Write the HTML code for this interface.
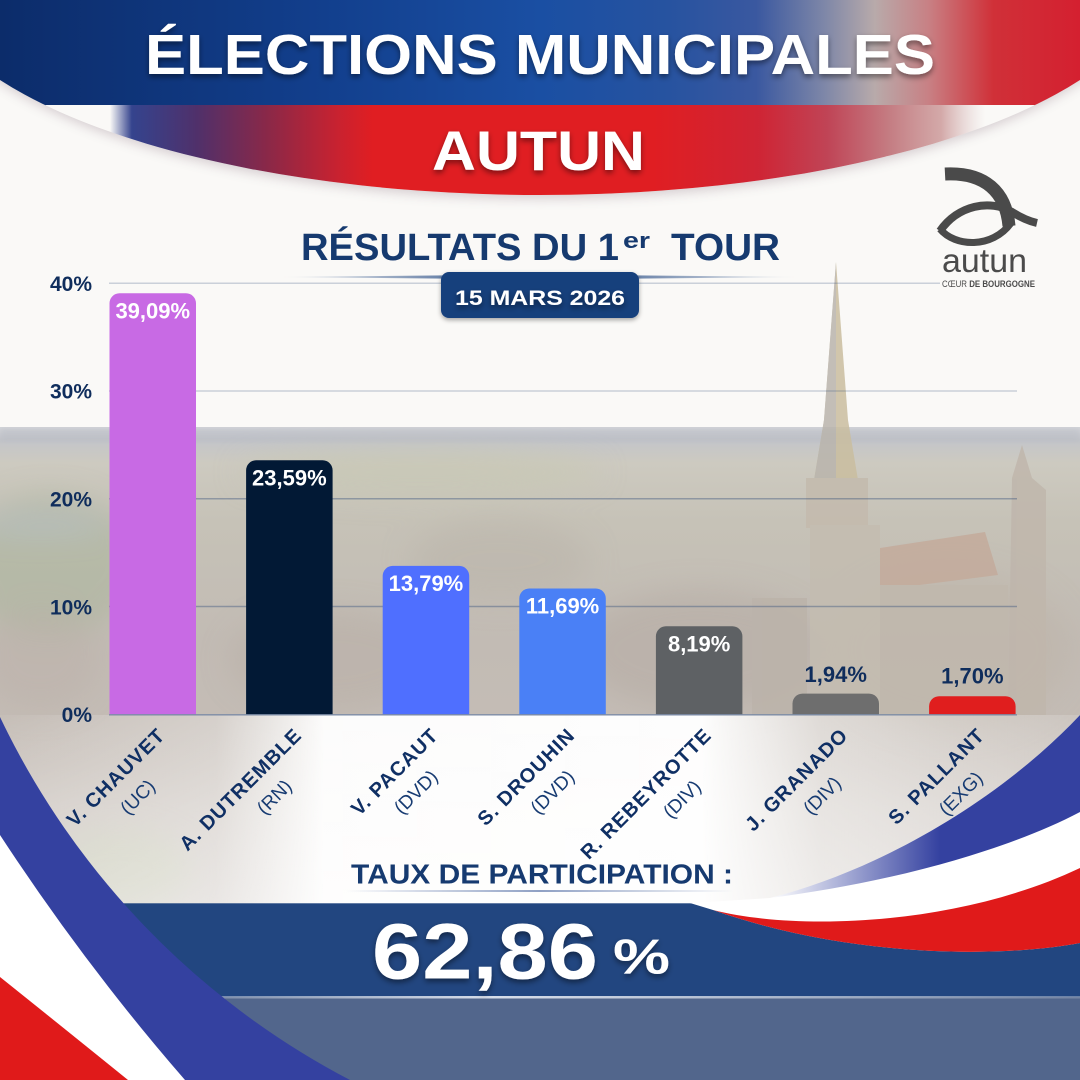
<!DOCTYPE html>
<html><head><meta charset="utf-8">
<style>
html,body{margin:0;padding:0;width:1080px;height:1080px;overflow:hidden;background:#faf9f7}
svg{display:block}
text{font-family:"Liberation Sans",Arial,sans-serif}
</style></head><body>
<svg width="1080" height="1080" viewBox="0 0 1080 1080" xmlns="http://www.w3.org/2000/svg">
<defs>
<clipPath id="hdr"><ellipse cx="540" cy="-31" rx="620" ry="226"/></clipPath>
<clipPath id="phc"><rect x="0" y="427" width="1080" height="480"/></clipPath>
<linearGradient id="topband" x1="0" y1="0" x2="1080" y2="0" gradientUnits="userSpaceOnUse">
 <stop offset="0" stop-color="#0c2c6a"/>
 <stop offset="0.3" stop-color="#123f8d"/>
 <stop offset="0.5" stop-color="#1a4fa3"/>
 <stop offset="0.62" stop-color="#2753a0"/>
 <stop offset="0.7" stop-color="#3a58a0"/>
 <stop offset="0.765" stop-color="#8088a8"/>
 <stop offset="0.81" stop-color="#b8aaaa"/>
 <stop offset="0.86" stop-color="#c88084"/>
 <stop offset="0.92" stop-color="#d03038"/>
 <stop offset="1" stop-color="#d42030"/>
</linearGradient>
<linearGradient id="redband" x1="110" y1="0" x2="985" y2="0" gradientUnits="userSpaceOnUse">
 <stop offset="0" stop-color="#2a3a88" stop-opacity="0"/>
 <stop offset="0.025" stop-color="#2a3a88" stop-opacity="0.95"/>
 <stop offset="0.1" stop-color="#50306a"/>
 <stop offset="0.18" stop-color="#8a2848"/>
 <stop offset="0.26" stop-color="#c82230"/>
 <stop offset="0.3" stop-color="#e01e22"/>
 <stop offset="0.62" stop-color="#e01e22"/>
 <stop offset="0.74" stop-color="#cf2434"/>
 <stop offset="0.82" stop-color="#c04456"/>
 <stop offset="0.89" stop-color="#c47c82"/>
 <stop offset="0.95" stop-color="#cfa0a0" stop-opacity="0.9"/>
 <stop offset="1" stop-color="#d8c0c0" stop-opacity="0"/>
</linearGradient>
<linearGradient id="ph" x1="0" y1="425" x2="0" y2="905" gradientUnits="userSpaceOnUse">
 <stop offset="0" stop-color="#d8dade"/>
 <stop offset="0.03" stop-color="#c3c5ca"/>
 <stop offset="0.08" stop-color="#cdcac0"/>
 <stop offset="0.2" stop-color="#c6c2b7"/>
 <stop offset="0.45" stop-color="#c2bbb4"/>
 <stop offset="0.7" stop-color="#c5bdb6"/>
 <stop offset="1" stop-color="#cdc6c0"/>
</linearGradient>
<linearGradient id="haze" x1="0" y1="0" x2="1080" y2="0" gradientUnits="userSpaceOnUse">
 <stop offset="0" stop-color="#ffffff" stop-opacity="0.05"/>
 <stop offset="0.2" stop-color="#ffffff" stop-opacity="0.3"/>
 <stop offset="0.3" stop-color="#ffffff" stop-opacity="0.95"/>
 <stop offset="0.65" stop-color="#ffffff" stop-opacity="0.97"/>
 <stop offset="0.76" stop-color="#ffffff" stop-opacity="0.45"/>
 <stop offset="1" stop-color="#ffffff" stop-opacity="0.15"/>
</linearGradient>
<linearGradient id="hazeV" x1="0" y1="715" x2="0" y2="905" gradientUnits="userSpaceOnUse">
 <stop offset="0" stop-color="#ffffff" stop-opacity="0"/>
 <stop offset="0.5" stop-color="#ffffff" stop-opacity="0.25"/>
 <stop offset="1" stop-color="#ffffff" stop-opacity="0.4"/>
</linearGradient>
<linearGradient id="uline" x1="279" y1="0" x2="799" y2="0" gradientUnits="userSpaceOnUse">
 <stop offset="0" stop-color="#173f7c" stop-opacity="0"/>
 <stop offset="0.5" stop-color="#173f7c"/>
 <stop offset="1" stop-color="#173f7c" stop-opacity="0"/>
</linearGradient>
<linearGradient id="uline2" x1="346" y1="0" x2="733" y2="0" gradientUnits="userSpaceOnUse">
 <stop offset="0" stop-color="#8fa0c4" stop-opacity="0"/>
 <stop offset="0.5" stop-color="#8fa0c4"/>
 <stop offset="1" stop-color="#8fa0c4" stop-opacity="0"/>
</linearGradient>
<linearGradient id="hl" x1="100" y1="0" x2="1080" y2="0" gradientUnits="userSpaceOnUse">
 <stop offset="0" stop-color="#ffffff" stop-opacity="0"/>
 <stop offset="0.4" stop-color="#e6ebf4" stop-opacity="0.9"/>
 <stop offset="1" stop-color="#ffffff" stop-opacity="0.2"/>
</linearGradient>
<linearGradient id="blueR" x1="770" y1="0" x2="940" y2="0" gradientUnits="userSpaceOnUse">
 <stop offset="0" stop-color="#3441a0" stop-opacity="0"/>
 <stop offset="1" stop-color="#3441a0"/>
</linearGradient>
<filter id="tsh" x="-10%" y="-40%" width="120%" height="180%"><feDropShadow dx="0" dy="3" stdDeviation="3" flood-color="#000" flood-opacity="0.45"/></filter>
<filter id="bsh" x="-20%" y="-40%" width="140%" height="180%"><feDropShadow dx="0" dy="2" stdDeviation="2.5" flood-color="#000" flood-opacity="0.35"/></filter>
<filter id="blur6"><feGaussianBlur stdDeviation="6"/></filter>
<filter id="blur3"><feGaussianBlur stdDeviation="3"/></filter>
<filter id="blur12" x="-50%" y="-50%" width="200%" height="200%"><feGaussianBlur stdDeviation="14"/></filter>
</defs>

<!-- background -->
<rect width="1080" height="1080" fill="#faf9f7"/>

<!-- photo -->
<rect x="0" y="427" width="1080" height="480" fill="url(#ph)"/>
<g clip-path="url(#phc)">
<g filter="url(#blur12)">
 <ellipse cx="50" cy="565" rx="90" ry="70" fill="#aab59a" opacity="0.55"/>
 <ellipse cx="420" cy="472" rx="180" ry="22" fill="#c6c8b2" opacity="0.6"/>
 <ellipse cx="700" cy="650" rx="120" ry="60" fill="#b4a9a1" opacity="0.5"/>
 <ellipse cx="330" cy="660" rx="100" ry="50" fill="#b8ada5" opacity="0.5"/>
 <ellipse cx="500" cy="560" rx="90" ry="40" fill="#b9b2a8" opacity="0.45"/>
 <ellipse cx="120" cy="870" rx="70" ry="40" fill="#bfc4a8" opacity="0.6"/>
 <ellipse cx="950" cy="650" rx="120" ry="80" fill="#bdb3a8" opacity="0.5"/>
 <ellipse cx="40" cy="660" rx="60" ry="50" fill="#bcb1aa" opacity="0.5"/>
 <ellipse cx="40" cy="524" rx="70" ry="9" fill="#b8c1cb" opacity="0.7"/>
</g>
<rect x="0" y="428" width="1080" height="14" fill="#b7bac2" opacity="0.45" filter="url(#blur3)"/>
</g>
<!-- cathedral -->
<g opacity="0.85">
 <polygon points="836,262 848,420 858,480 814,480 824,420" fill="#c9be9f"/>
 <polygon points="836,262 824,420 814,480 836,480" fill="#b9b4ac"/>
 <rect x="806" y="478" width="62" height="50" fill="#c3baad"/>
 <rect x="810" y="525" width="70" height="190" fill="#c4bcb1"/>
 <polygon points="880,548 985,532 998,575 880,590" fill="#c4ab9c"/>
 <rect x="880" y="585" width="128" height="130" fill="#c0b8ad"/>
 <polygon points="1012,478 1022,445 1032,478 1046,490 1046,715 1008,715" fill="#bfb6ac"/>
 <rect x="752" y="598" width="55" height="117" fill="#bbb3aa"/>
</g>
<!-- haze below axis -->
<rect x="0" y="715" width="1080" height="190" fill="url(#haze)"/>
<rect x="0" y="715" width="1080" height="190" fill="url(#hazeV)"/>

<!-- gridlines -->
<g stroke="#1f3f73" stroke-opacity="0.22" stroke-width="1.5">
 <line x1="109" y1="283.3" x2="940" y2="283.3"/>
 <line x1="109" y1="391" x2="1017" y2="391"/>
 <line x1="109" y1="498.8" x2="1017" y2="498.8" stroke-opacity="0.35"/>
 <line x1="109" y1="606.5" x2="1017" y2="606.5" stroke-opacity="0.35"/>
</g>

<!-- bars -->
<path d="M109.5,714.5 V303.3 A10,10 0 0 1 119.5,293.3 H186 A10,10 0 0 1 196,303.3 V714.5 Z" fill="#c86ae4"/>
<path d="M246.1,714.5 V470.3 A10,10 0 0 1 256.1,460.3 H322.6 A10,10 0 0 1 332.6,470.3 V714.5 Z" fill="#021935"/>
<path d="M382.7,714.5 V575.9 A10,10 0 0 1 392.7,565.9 H459.2 A10,10 0 0 1 469.2,575.9 V714.5 Z" fill="#4f6fff"/>
<path d="M519.3,714.5 V598.5 A10,10 0 0 1 529.3,588.5 H595.8 A10,10 0 0 1 605.8,598.5 V714.5 Z" fill="#4a80f6"/>
<path d="M655.9,714.5 V636.3 A10,10 0 0 1 665.9,626.3 H732.4 A10,10 0 0 1 742.4,636.3 V714.5 Z" fill="#5e6164"/>
<path d="M792.5,714.5 V703.6 A10,10 0 0 1 802.5,693.6 H869 A10,10 0 0 1 879,703.6 V714.5 Z" fill="#6e6e6e"/>
<path d="M929.1,714.5 V706.2 A10,10 0 0 1 939.1,696.2 H1005.6 A10,10 0 0 1 1015.6,706.2 V714.5 Z" fill="#e01e1e"/>
<line x1="109" y1="714.8" x2="1017" y2="714.8" stroke="#7d8ca6" stroke-width="1.3"/>

<!-- value labels -->
<g font-size="22" font-weight="700" text-anchor="middle" fill="#ffffff">
 <text x="152.75" y="318.3">39,09%</text>
 <text x="289.35" y="485.3">23,59%</text>
 <text x="425.95" y="590.9">13,79%</text>
 <text x="562.55" y="613.5">11,69%</text>
 <text x="699.15" y="651.3">8,19%</text>
 <text x="835.75" y="682" fill="#0f2d5c">1,94%</text>
 <text x="972.35" y="683.5" fill="#0f2d5c">1,70%</text>
</g>

<!-- y axis labels -->
<g font-size="21" font-weight="700" text-anchor="end" fill="#0f2d5c">
 <text x="92" y="291">40%</text>
 <text x="92" y="398.5">30%</text>
 <text x="92" y="506.5">20%</text>
 <text x="92" y="614.5">10%</text>
 <text x="92" y="722">0%</text>
</g>

<!-- x labels -->
<g fill="#0f2f64">
 <g transform="translate(166.25,736.5) rotate(-45)"><text font-size="20" font-weight="700" text-anchor="end" letter-spacing="1">V. CHAUVET</text><text x="-63" y="29" font-size="19" text-anchor="middle" fill="#173b72">(UC)</text></g>
 <g transform="translate(302.85,736.5) rotate(-45)"><text font-size="20" font-weight="700" text-anchor="end" letter-spacing="1">A. DUTREMBLE</text><text x="-63" y="29" font-size="19" text-anchor="middle" fill="#173b72">(RN)</text></g>
 <g transform="translate(439.45,736.5) rotate(-45)"><text font-size="20" font-weight="700" text-anchor="end" letter-spacing="1">V. PACAUT</text><text x="-56" y="29" font-size="19" text-anchor="middle" fill="#173b72">(DVD)</text></g>
 <g transform="translate(576.05,736.5) rotate(-45)"><text font-size="20" font-weight="700" text-anchor="end" letter-spacing="1">S. DROUHIN</text><text x="-56" y="29" font-size="19" text-anchor="middle" fill="#173b72">(DVD)</text></g>
 <g transform="translate(712.65,736.5) rotate(-45)"><text font-size="20" font-weight="700" text-anchor="end" letter-spacing="1">R. REBEYROTTE</text><text x="-66" y="29" font-size="19" text-anchor="middle" fill="#173b72">(DIV)</text></g>
 <g transform="translate(849.25,736.5) rotate(-45)"><text font-size="20" font-weight="700" text-anchor="end" letter-spacing="1">J. GRANADO</text><text x="-61" y="29" font-size="19" text-anchor="middle" fill="#173b72">(DIV)</text></g>
 <g transform="translate(985.85,736.5) rotate(-45)"><text font-size="20" font-weight="700" text-anchor="end" letter-spacing="1">S. PALLANT</text><text x="-58" y="29" font-size="19" text-anchor="middle" fill="#173b72">(EXG)</text></g>
</g>

<!-- participation -->
<text x="351" y="883.3" font-size="28" font-weight="700" fill="#163a70" textLength="382" lengthAdjust="spacingAndGlyphs">TAUX DE PARTICIPATION :</text>
<rect x="346" y="890" width="387" height="2" fill="url(#uline2)"/>

<rect x="0" y="903.3" width="1080" height="93.5" fill="#224680"/>
<rect x="0" y="996.8" width="1080" height="83.2" fill="#52668c"/>
<rect x="100" y="996" width="980" height="2.5" fill="url(#hl)"/>

<text x="372" y="978.3" font-size="79" font-weight="700" fill="#ffffff" textLength="226" lengthAdjust="spacingAndGlyphs" filter="url(#tsh)">62,86</text>
<text x="613" y="973.3" font-size="49" font-weight="700" fill="#ffffff" textLength="57" lengthAdjust="spacingAndGlyphs" filter="url(#tsh)">%</text>

<!-- right ribbons -->
<path d="M1080,715 C1000,800 880,870 770,898 L690,903 L713,910 C850,958 1000,958 1080,943 Z" fill="#ffffff"/>
<path d="M1080,715 C1000,800 880,870 770,898 C880,884 1000,854 1080,812 Z" fill="url(#blueR)"/>
<path d="M713,910 C800,932 960,925 1080,868 L1080,943 C1000,958 850,958 713,910 Z" fill="#e01a1a"/>

<!-- left ribbons -->
<path d="M0,717 A796,796 0 0 0 350,1080 L0,1080 Z" fill="#3441a0"/>
<path d="M0,835 Q85,965 185,1080 L0,1080 Z" fill="#ffffff"/>
<path d="M0,977 Q60,1025 128,1080 L0,1080 Z" fill="#e01a1a"/>

<!-- header -->
<ellipse cx="540" cy="-28" rx="618" ry="226" fill="#5a3a50" opacity="0.25" filter="url(#blur6)"/>
<g clip-path="url(#hdr)">
 <rect x="0" y="0" width="1080" height="105.5" fill="url(#topband)"/>
 <rect x="0" y="105" width="1080" height="100" fill="#faf9f7"/>
 <rect x="110" y="105" width="875" height="100" fill="url(#redband)"/>
</g>
<text x="145" y="74" font-size="57" font-weight="700" fill="#ffffff" textLength="790" lengthAdjust="spacingAndGlyphs" filter="url(#tsh)">ÉLECTIONS MUNICIPALES</text>
<text x="432" y="170" font-size="56" font-weight="700" fill="#ffffff" textLength="213" lengthAdjust="spacingAndGlyphs" filter="url(#tsh)">AUTUN</text>

<!-- results title -->
<g fill="#163a6f" font-weight="700">
 <text x="301" y="260" font-size="38" textLength="318" lengthAdjust="spacingAndGlyphs">RÉSULTATS DU 1</text>
 <text x="623" y="248" font-size="22" textLength="27" lengthAdjust="spacingAndGlyphs">er</text>
 <text x="671" y="260" font-size="38" textLength="109" lengthAdjust="spacingAndGlyphs">TOUR</text>
</g>
<polygon points="279,277 540,274.5 799,277 540,279.5" fill="url(#uline)"/>
<rect x="441" y="272" width="198" height="46" rx="8" fill="#173f7c" filter="url(#bsh)"/>
<text x="455" y="305" font-size="21" font-weight="700" fill="#ffffff" textLength="170" lengthAdjust="spacingAndGlyphs" filter="url(#tsh)">15 MARS 2026</text>

<!-- logo -->
<g fill="none" stroke="#4a4a4a" stroke-linecap="butt">
 <path d="M945,174 C985,172 1006,192 1009,226" stroke-width="13"/>
 <path d="M940,231 C958,205 990,199 1012,212 C1020,217 1028,221 1037,223" stroke-width="8"/>
 <path d="M940,229 C955,247 992,249 1011,223" stroke-width="7"/>
</g>
<text x="942" y="272" font-size="33" fill="#4b4b4b" textLength="85" lengthAdjust="spacingAndGlyphs">autun</text>
<text x="942" y="287" font-size="9" fill="#4b4b4b" textLength="93" lengthAdjust="spacingAndGlyphs">CŒUR <tspan font-weight="700">DE BOURGOGNE</tspan></text>
</svg>
</body></html>
